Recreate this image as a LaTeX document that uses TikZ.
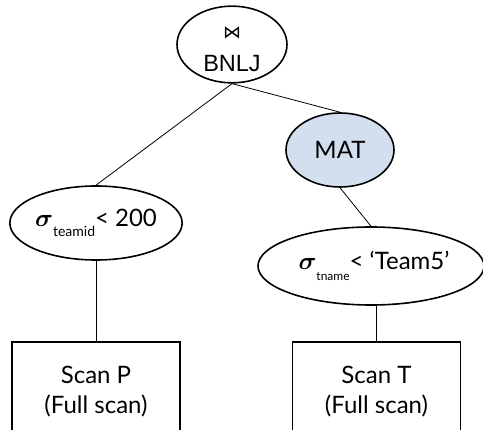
\documentclass[tikz,border=0pt]{standalone}
\usepackage{fontspec}
\usepackage{bm}
\usetikzlibrary{shapes.geometric}
\setmainfont{Lato}
\newfontfamily\symfont{DejaVu Sans}
\newfontfamily\arialfont{Liberation Sans}
\definecolor{matblue}{RGB}{211,222,239}
\begin{document}
\begin{tikzpicture}[x=1pt,y=-1pt,
  oper/.style={ellipse,draw=black,line width=1.6pt,inner sep=0pt,font=\fontsize{24}{27}\selectfont},
  scanbox/.style={rectangle,draw=black,line width=1.4pt,minimum width=168pt,minimum height=100pt,align=center,font=\fontsize{24}{30}\selectfont},
  edge/.style={draw=black,line width=0.8pt}]
\useasboundingbox (0,0) rectangle (483,430);
\clip (0,0) rectangle (483,430);
\node[oper,minimum width=110pt,minimum height=75pt,align=center,font=\fontsize{23.5}{33}\selectfont] (bnlj) at (232,44.5)
  {{\symfont\fontsize{18}{18}\selectfont ⋈\rule{0pt}{21pt}}\\{\arialfont BNLJ}};
\node[oper,minimum width=108pt,minimum height=74pt,fill=matblue] (mat) at (340,150) {MAT};
\node[oper,minimum width=169pt,minimum height=74pt] (lsig) at (96,223)
  {$\bm{\sigma}$\raisebox{-10pt}{\fontsize{14}{14}\selectfont teamid}< 200};
\node[oper,minimum width=226pt,minimum height=78pt] (rsig) at (371,266)
  {\hspace{6pt}$\bm{\sigma}$\raisebox{-11pt}{\fontsize{12}{12}\selectfont tname}< ‘Team5’};
\node[scanbox] (lbox) at (96,392) {Scan P\\(Full scan)};
\node[scanbox] (rbox) at (376.5,392) {Scan T\\(Full scan)};
\draw[edge] (bnlj.south) -- (lsig.north);
\draw[edge] (bnlj.south) -- (mat.north);
\draw[edge] (mat.south) -- (rsig.north);
\draw[edge] (lsig.south) -- (lbox.north);
\draw[edge] (rbox.north) -- (rbox.north |- rsig.south);
\end{tikzpicture}
\end{document}
